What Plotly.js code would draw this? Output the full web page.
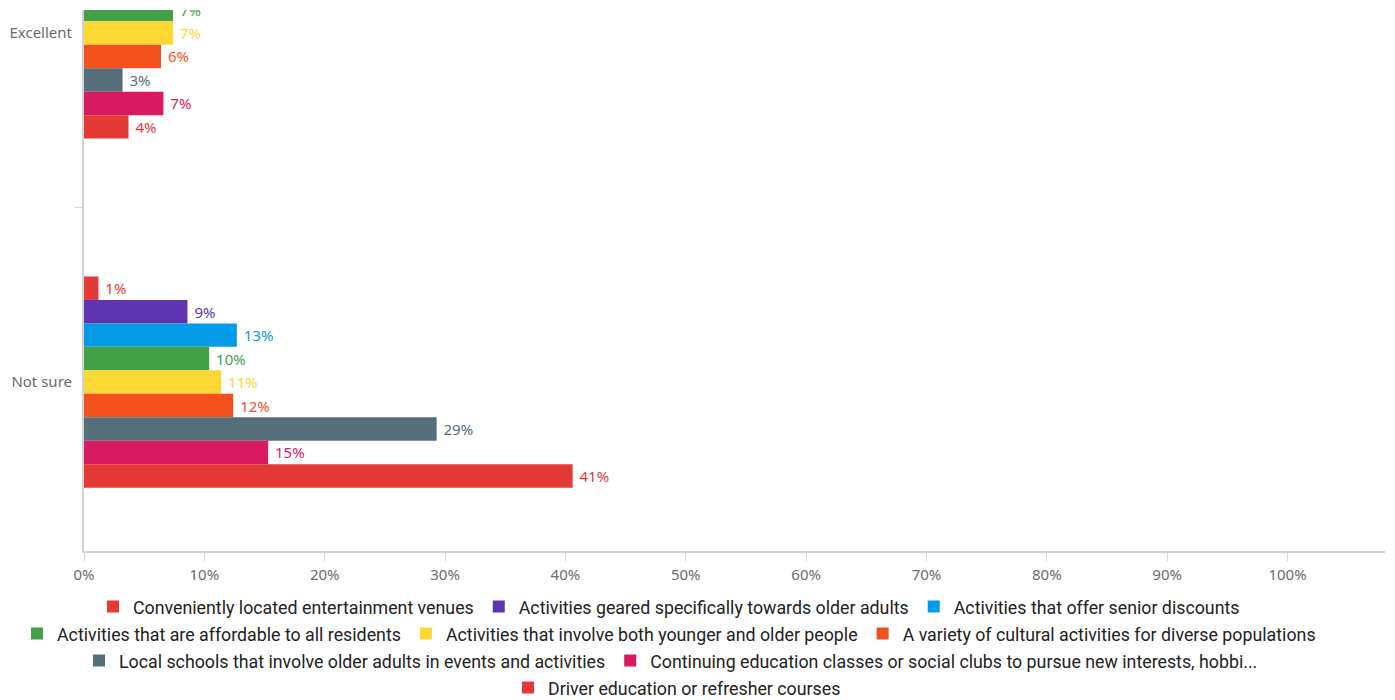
<!DOCTYPE html>
<html>
<head>
<meta charset="utf-8">
<script src="https://cdn.plot.ly/plotly-3.0.1.min.js"></script>
<style>
  html, body { margin: 0; padding: 0; background: #fff; }
  #chart { width: 1395px; height: 700px; }
</style>
</head>
<body>
<div id="chart"></div>
<script>
// Categories (top group is partly scrolled out of view in the reference)
const categories = ['Excellent', 'Not sure'];

// Series names (legend order)
const seriesNames = [
  'Conveniently located entertainment venues',
  'Activities geared specifically towards older adults',
  'Activities that offer senior discounts',
  'Activities that are affordable to all residents',
  'Activities that involve both younger and older people',
  'A variety of cultural activities for diverse populations',
  'Local schools that involve older adults in events and activities',
  'Continuing education classes or social clubs to pursue new interests, hobbi...',
  'Driver education or refresher courses'
];

// Values in percent, per series: [Excellent, Not sure]
const convenientlyLocated = [null, 1.2];
const gearedOlderAdults   = [null, 8.6];
const seniorDiscounts     = [null, 12.7];
const affordableAll       = [7.4, 10.4];
const youngerAndOlder     = [7.4, 11.4];
const culturalVariety     = [6.4, 12.4];
const localSchools        = [3.2, 29.3];
const continuingEducation = [6.6, 15.3];
const driverEducation     = [3.7, 40.6];

const seriesValues = [
  convenientlyLocated, gearedOlderAdults, seniorDiscounts,
  affordableAll, youngerAndOlder, culturalVariety,
  localSchools, continuingEducation, driverEducation
];

const seriesColors = [
  '#e53935', '#5e35b1', '#039be5',
  '#43a047', '#fdd835', '#f4511e',
  '#546e7a', '#d81b60', '#e53935'
];

const legendRows = ['legend', 'legend', 'legend',
                    'legend2', 'legend2', 'legend2',
                    'legend3', 'legend3', 'legend4'];

const traces = seriesNames.map((name, i) => ({
  type: 'bar',
  orientation: 'h',
  name: name,
  y: categories,
  x: seriesValues[i],
  marker: { color: seriesColors[i] },
  texttemplate: '\u00a0%{x:.0f}%',
  textposition: 'outside',
  cliponaxis: true,
  textfont: { color: seriesColors[i], size: 15, family: 'Noto Sans, sans-serif' },
  legend: legendRows[i],
  hoverinfo: 'skip'
}));

const plotTop = 10, plotBottom = 551;
function py(pix) { return (plotBottom - pix) / (plotBottom - plotTop); }
function px(pix) { return (pix - 84) / (1385 - 84); }

const legendBase = {
  orientation: 'h',
  xanchor: 'center',
  yanchor: 'middle',
  bgcolor: 'rgba(0,0,0,0)',
  font: { family: 'Roboto, sans-serif', size: 17.8, color: '#222' },
  itemwidth: 30
};

const layout = {
  width: 1395, height: 700,
  margin: { l: 84, r: 10, t: plotTop, b: 700 - plotBottom, autoexpand: false },
  paper_bgcolor: '#fff', plot_bgcolor: '#fff',
  barmode: 'group',
  bargap: 0.395,
  bargroupgap: 0,
  showlegend: true,
  font: { family: 'Noto Sans, sans-serif', size: 15, color: '#6b6b6b' },
  xaxis: {
    range: [0, 108.1],
    dtick: 10, tick0: 0,
    ticksuffix: '%',
    showgrid: false, zeroline: false,
    showline: true, linecolor: '#d4d4d4', linewidth: 2,
    ticks: 'outside', ticklen: 8, tickcolor: '#d4d4d4', tickwidth: 1,
    ticklabelstandoff: 1,
    tickfont: { size: 15, color: '#6b6b6b' },
    fixedrange: true
  },
  yaxis: {
    type: 'category',
    categoryorder: 'array', categoryarray: categories,
    range: [1.484, -0.0659],
    tickson: 'boundaries',
    showgrid: false, zeroline: false,
    showline: true, linecolor: '#d4d4d4', linewidth: 2,
    ticks: 'outside', ticklen: 8, tickcolor: '#d4d4d4', tickwidth: 1,
    ticklabelstandoff: 7,
    tickfont: { size: 15, color: '#6b6b6b' },
    fixedrange: true
  },
  legend:  Object.assign({}, legendBase, { x: px(669), y: py(607) }),
  legend2: Object.assign({}, legendBase, { x: px(669), y: py(634) }),
  legend3: Object.assign({}, legendBase, { x: px(671), y: py(661) }),
  legend4: Object.assign({}, legendBase, { x: px(677), y: py(688) })
};

Plotly.newPlot('chart', traces, layout, { displayModeBar: false, staticPlot: true });
</script>
</body>
</html>
